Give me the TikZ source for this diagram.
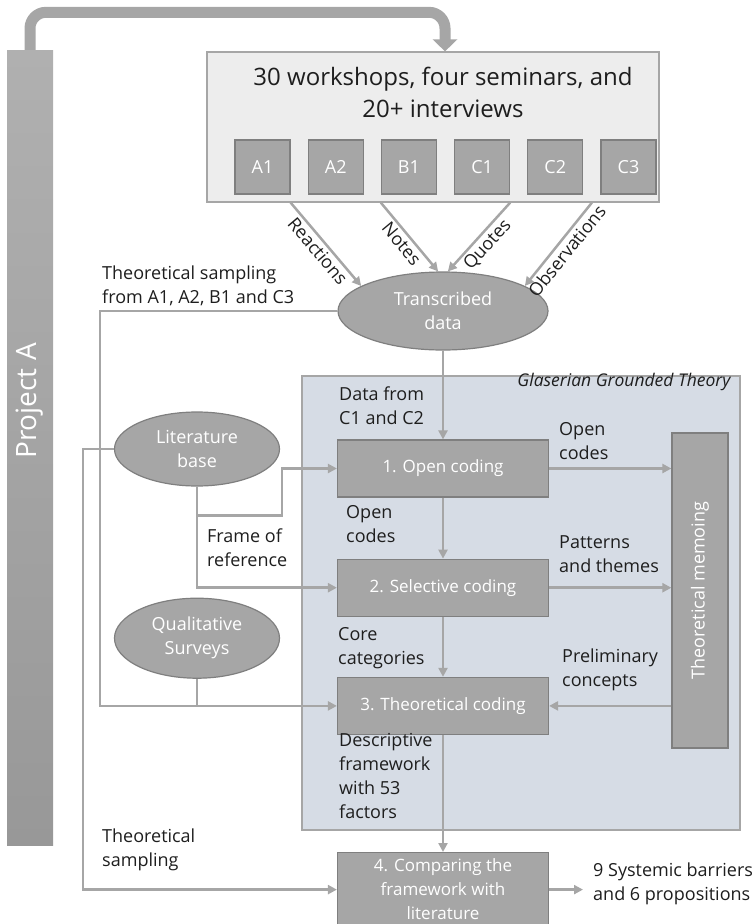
\documentclass[tikz,border=0pt]{standalone}
\usepackage{fontspec}
\setmainfont{Open Sans}
\usepackage{xcolor}
\usetikzlibrary{positioning,arrows.meta,shapes.geometric,calc}
\definecolor{G1}{RGB}{166,166,166}
\definecolor{G2}{RGB}{127,127,127}
\definecolor{G3}{RGB}{237,237,237}
\definecolor{G4}{RGB}{176,176,176}
\definecolor{G5}{RGB}{152,152,152}
\definecolor{L1}{RGB}{214,220,229}
\definecolor{T1}{RGB}{30,30,30}

\begin{document}
\begin{tikzpicture}[x=1pt, y=-1pt,
  every node/.style={font=\fontsize{18}{24}\selectfont},
  codebox/.style={draw=G2, line width=1.2pt, fill=G1, text=white, font=\fontsize{17}{24}\selectfont,
                  minimum width=211pt, minimum height=57pt, align=center, inner sep=2pt},
  srcbox/.style={draw=G2, line width=1.2pt, fill=G1, text=white,
                 minimum width=55pt, minimum height=54pt},
  blob/.style={ellipse, draw=G2, line width=1.2pt, fill=G1, text=white,
               align=center, inner sep=0pt},
  lab/.style={inner sep=0pt, align=left, text=T1, anchor=north west},
  slab/.style={sloped, below, inner sep=2.5pt, text=T1},
  arr/.style={-{Triangle[length=9pt, width=9pt]}, draw=G1, line width=2.5pt},
  con/.style={draw=G1, line width=2.5pt},
]
\useasboundingbox (0,0) rectangle (755,924);

\node[top color=G4, bottom color=G5, minimum width=46pt, minimum height=795pt, inner sep=0pt] (proj) at (30,447.5) {};
\node[rotate=90, text=white, font=\fontsize{28}{32}\selectfont] (projtxt) at (30,401) {Project A};

\node[draw=G1, line width=1.2pt, fill=G3, minimum width=452pt, minimum height=150pt] (events) at (433,127) {};
\node[text=T1, align=center, font=\fontsize{24}{31.5}\selectfont] (title) at (443,92.5) {30 workshops, four seminars, and\\20+ interviews};
\node[srcbox] (a1) at (262.5,167) {A1};
\node[srcbox, right=17pt of a1] (a2) {A2};
\node[srcbox, right=17pt of a2] (b1) {B1};
\node[srcbox, right=17pt of b1] (c1) {C1};
\node[srcbox, right=17pt of c1] (c2) {C2};
\node[srcbox, right=17pt of c2] (c3) {C3};

\draw[line width=11pt, draw=G1, rounded corners=16pt, -{Triangle[length=12pt, width=24pt]}]
  (proj.north) -- ++(0,-37.5) -| ([xshift=12pt]events.north);

\node[blob, minimum width=210pt, minimum height=78pt] (trans) at (443,311) {Transcribed\\data};

\node[draw=G1, line width=1.2pt, fill=L1, minimum width=438pt, minimum height=454pt] (ggt) at (521,603) {};
\node[anchor=base east, text=T1, font=\fontsize{17.5}{21}\selectfont\itshape] (ggttxt) at (734,386) {Glaserian Grounded Theory};

\node[codebox] (open) at (443,468.5) {1. Open coding};
\node[codebox, below=61pt of open] (sel) {2. Selective coding};
\node[codebox, below=60pt of sel] (theo) {3. Theoretical coding};
\node[codebox, minimum height=74pt, below=117pt of theo] (cmp) {4. Comparing the\\framework with\\literature};
\node[draw=G2, line width=1.2pt, fill=G1, minimum width=56pt, minimum height=315pt] (memo) at (700,590.5) {};
\node[rotate=90, text=white] (memotxt) at (memo) {Theoretical memoing};

\node[blob, minimum width=165pt, minimum height=74pt] (lit) at (197,449) {Literature\\base};
\node[blob, minimum width=165pt, minimum height=80pt, below=111pt of lit] (surv) {Qualitative\\Surveys};

\node[lab] (sampA) at (102,266) {Theoretical sampling\\from A1, A2, B1 and C3};
\node[lab] (dataC) at (339,387) {Data from\\C1 and C2};
\node[lab] (openR) at (559,422) {Open\\codes};
\node[lab] (openB) at (346,505) {Open\\codes};
\node[lab] (patt) at (559,535) {Patterns\\and themes};
\node[lab] (frame) at (207,529) {Frame of\\reference};
\node[lab] (core) at (338,627) {Core\\categories};
\node[lab] (prelim) at (562,649) {Preliminary\\concepts};
\node[lab] (desc) at (339,733) {Descriptive\\framework\\with 53\\factors};
\node[lab] (sampB) at (102,829) {Theoretical\\sampling};
\node[lab, anchor=west] (res) at (593,884) {9 Systemic barriers\\and 6 propositions};

\coordinate (loopA) at (100,0);
\coordinate (loopB) at (83,0);
\coordinate (fork) at ($(lit.south)+(0,29)$);
\coordinate (obs) at ($(c2.east)!0.5!(c3.west)$);

\draw[arr] (events.south -| a1.east) -- node[slab]{Reactions} (trans.163);
\draw[arr] (events.south -| b1.west) -- node[slab]{Notes} (trans.97);
\draw[arr] (events.south -| c1.east) -- node[slab]{Quotes} (trans.83);
\draw[arr] (events.south -| obs) -- node[slab]{Observations} (trans.17);

\draw[arr] (trans) -- (open);
\draw[arr] (open) -- (sel);
\draw[arr] (sel) -- (theo);
\draw[arr] (theo) -- (cmp);
\draw[arr] (open) -- (open -| memo.west);
\draw[arr] (sel) -- (sel -| memo.west);
\draw[arr] (theo -| memo.west) -- (theo);
\draw[arr] (trans.west) -- (trans.west -| loopA) |- (theo.west);
\draw[con] (surv) -- (surv |- theo.west);
\draw[arr] (lit.west) -- (lit.west -| loopB) |- (cmp.west);
\draw[arr] (lit) |- (sel.west);
\draw[arr] (fork) -- ++(85,0) |- (open.west);
\draw[arr, shorten >=10pt] (cmp) -- (cmp -| res.west);
\end{tikzpicture}
\end{document}
